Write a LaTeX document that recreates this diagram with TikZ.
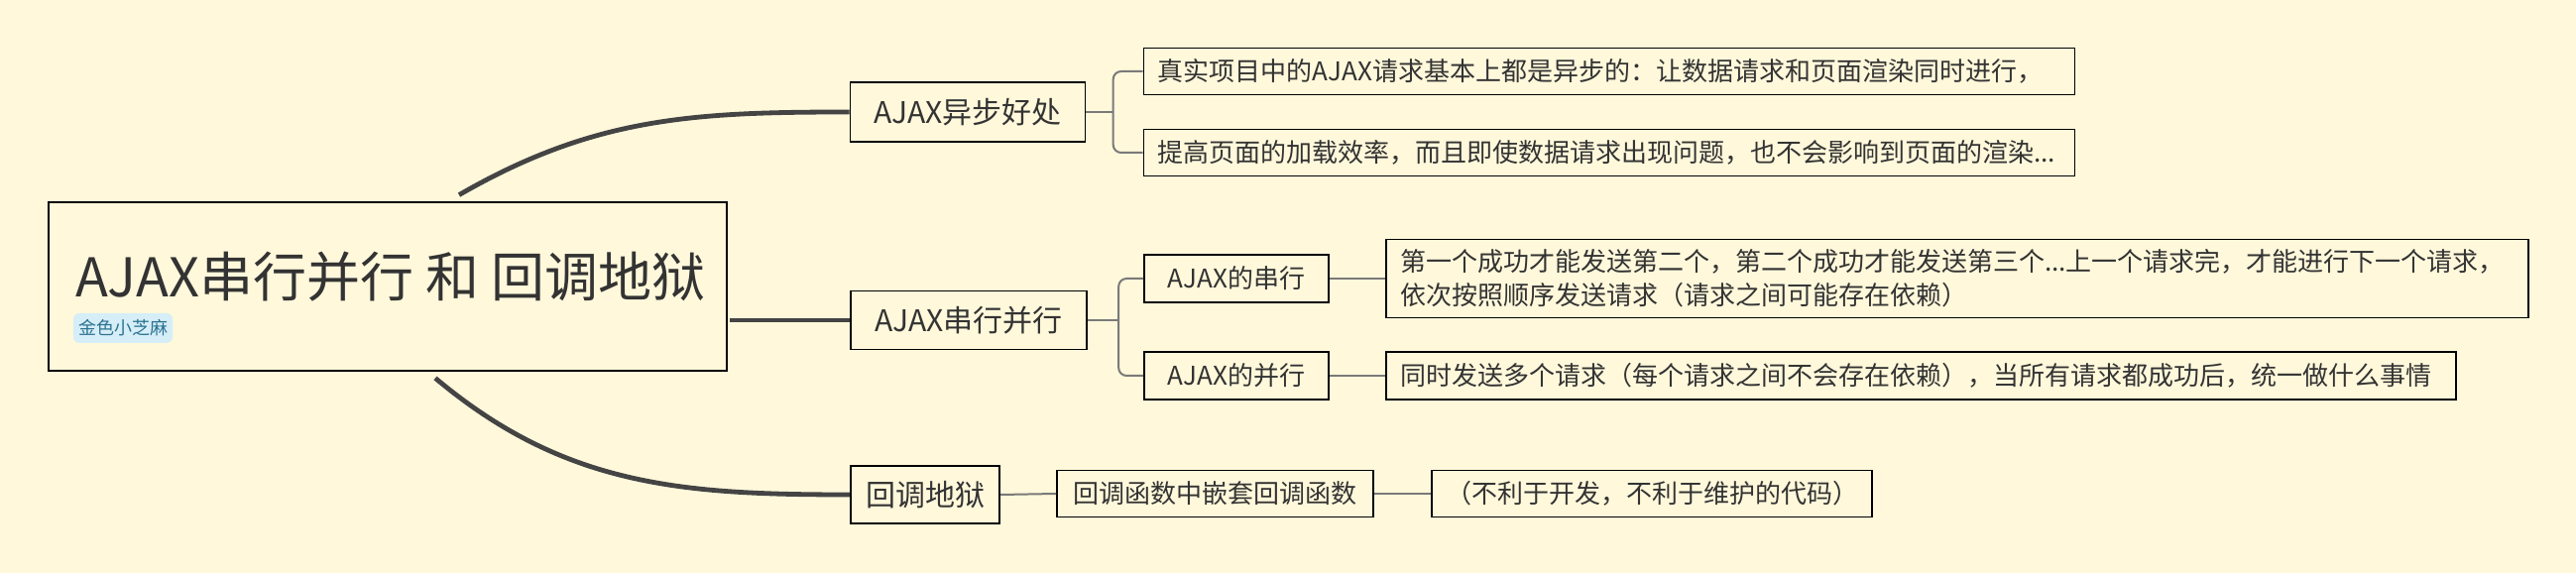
\documentclass[tikz,border=0pt]{standalone}
\usepackage{fontspec}
\setmainfont{Noto Sans CJK SC}
\definecolor{paper}{HTML}{FFF8DB}
\definecolor{ink}{HTML}{333333}
\definecolor{branchcol}{HTML}{444444}
\definecolor{twigcol}{HTML}{7A7A7A}
\definecolor{tagfill}{HTML}{D5EEF7}
\definecolor{tagtext}{HTML}{2E7391}

\begin{document}
\begin{tikzpicture}[x=0.5pt,y=0.5pt,
   box/.style={draw=black,line width=0.8pt,fill=paper,text=ink,inner xsep=7pt,inner ysep=0pt,align=center},
   topic/.style={box,font=\fontsize{15}{18}\selectfont},
   sub/.style={box,font=\fontsize{13}{17}\selectfont},
   leaf/.style={box,font=\fontsize{13}{17}\selectfont,align=left},
   branch/.style={draw=branchcol,line width=2.4pt},
   twig/.style={draw=twigcol,line width=1pt,rounded corners=4pt}]
   \fill[paper] (0,0) rectangle (2598,578);

   \node[box,line width=1.4pt,minimum width=342pt,minimum height=85pt] (root) at (391,289) {};
   \node[text=ink,font=\fontsize{27}{31}\selectfont] (title) at (394,299) {AJAX串行并行 和 回调地狱};
   \node[fill=tagfill,text=tagtext,rounded corners=3pt,font=\fontsize{9}{11}\selectfont,minimum width=50pt,minimum height=15pt,inner sep=1pt] (tag) at (124,247) {金色小芝麻};

   \node[topic,minimum width=118.5pt,minimum height=30pt] (benefit) at (976,465) {AJAX异步好处};
   \node[leaf,text width=455.5pt,minimum height=23.5pt] (b1) at (1623,506) {真实项目中的AJAX请求基本上都是异步的：让数据请求和页面渲染同时进行，};
   \node[leaf,text width=455.5pt,minimum height=23.5pt] (b2) at (1623,424) {提高页面的加载效率，而且即使数据请求出现问题，也不会影响到页面的渲染...};

   \node[topic,minimum width=119pt,minimum height=29.5pt] (series) at (977,255) {AJAX串行并行};
   \node[sub,minimum width=93pt,minimum height=24pt] (ser) at (1247,297) {AJAX的串行};
   \node[sub,minimum width=93pt,minimum height=24pt] (par) at (1247,199) {AJAX的并行};
   \node[leaf,text width=562pt,minimum height=39.5pt] (sertext) at (1974,297) {第一个成功才能发送第二个，第二个成功才能发送第三个...上一个请求完，才能进行下一个请求，\\依次按照顺序发送请求（请求之间可能存在依赖）};
   \node[leaf,text width=525.5pt,minimum height=24pt] (partext) at (1937.5,199) {同时发送多个请求（每个请求之间不会存在依赖），当所有请求都成功后，统一做什么事情};

   \node[topic,minimum width=75pt,minimum height=29pt] (hell) at (933,79) {回调地狱};
   \node[sub,minimum width=159.5pt,minimum height=23.5pt] (nest) at (1225.5,80) {回调函数中嵌套回调函数};
   \node[sub,minimum width=222pt,minimum height=23.5pt] (bad) at (1666,80) {（不利于开发，不利于维护的代码）};

   \draw[branch] ([xshift=36pt,yshift=3pt]root.north) to[out=30,in=180] (benefit.west);
   \draw[branch] ([xshift=1pt]series.west -| root.east) -- (series.west);
   \draw[branch] ([xshift=24pt,yshift=-3pt]root.south) to[out=-40,in=180] (hell.west);

   \draw[twig] (benefit.east) -- ([xshift=-15pt]b1.west |- benefit.east);
   \draw[twig] (b1.west) -| ([xshift=-15pt]b1.west |- benefit.east) |- (b2.west);
   \draw[twig] (series.east) -- ([xshift=-12.5pt]ser.west |- series.east);
   \draw[twig] (ser.west) -| ([xshift=-12.5pt]ser.west |- series.east) |- (par.west);
   \draw[twig] (ser.east) -- (ser.east -| sertext.west);
   \draw[twig] (par.east) -- (partext.west);
   \draw[twig] (hell.east) -- (nest.west);
   \draw[twig] (nest.east) -- (bad.west);
\end{tikzpicture}
\end{document}
